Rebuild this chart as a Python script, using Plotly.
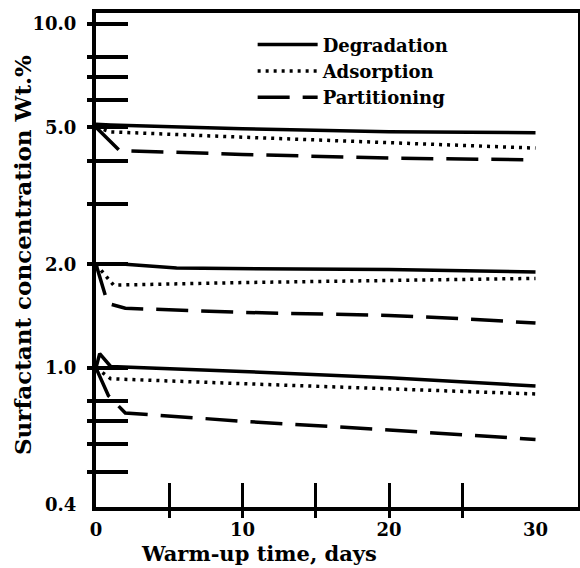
import plotly.graph_objects as go

# ---- data ----
series_names = ["Degradation", "Adsorption", "Partitioning"]

# group starting at 5.0 wt.%
deg5_days = [0, 1, 10, 20, 30]
deg5_vals = [5.1, 5.08, 4.95, 4.85, 4.82]
ads5_days = [0, 1, 10, 20, 30]
ads5_vals = [5.0, 4.85, 4.68, 4.5, 4.35]
par5_days = [0, 1.6, 10, 20, 30]
par5_vals = [5.0, 4.28, 4.17, 4.07, 4.02]

# group starting at 2.0 wt.%
deg2_days = [0, 2, 5.5, 20, 30]
deg2_vals = [2.0, 2.0, 1.95, 1.93, 1.9]
ads2_days = [0, 1.2, 10, 20, 30]
ads2_vals = [2.0, 1.74, 1.77, 1.8, 1.82]
par2_days = [0, 0.8, 2, 10, 20, 25, 30]
par2_vals = [2.0, 1.54, 1.49, 1.45, 1.42, 1.39, 1.35]

# group starting at 1.0 wt.%
deg1_days = [0, 0.25, 1, 10, 20, 30]
deg1_vals = [1.0, 1.1, 1.01, 0.977, 0.936, 0.886]
ads1_days = [0, 1, 10, 20, 30]
ads1_vals = [1.0, 0.93, 0.9, 0.87, 0.84]
par1_days = [0, 0.85, 2, 10, 20, 30]
par1_vals = [1.0, 0.83, 0.74, 0.70, 0.66, 0.62]

x_tick_vals = [0, 10, 20, 30]
x_tick_text = ["0", "10", "20", "30"]
x_mark_vals = [5, 10, 15, 20, 25]
y_tick_vals = [0.4, 1, 2, 5, 10]
y_tick_text = ["0.4", "1.0", "2.0", "5.0", "10.0"]
y_mark_vals = [10, 8, 7, 6, 5, 4, 3, 2, 1, 0.8, 0.7, 0.6, 0.5]

x_title = "Warm-up time, days"
y_title = "Surfactant concentration Wt.%"

# ---- styling ----
FONT = "DejaVu Serif"
styles = {
    "Degradation": dict(color="black", width=3.5, dash="solid"),
    "Adsorption": dict(color="black", width=3.5, dash="3px,5px"),
    "Partitioning": dict(color="black", width=3.5, dash="32px,13px"),
}

groups = [
    [(deg5_days, deg5_vals), (ads5_days, ads5_vals), (par5_days, par5_vals)],
    [(deg2_days, deg2_vals), (ads2_days, ads2_vals), (par2_days, par2_vals)],
    [(deg1_days, deg1_vals), (ads1_days, ads1_vals), (par1_days, par1_vals)],
]
# each concentration group lives on its own (identical, overlaid) axis pair,
# which lets every tick layer of the axes be drawn
axis_pairs = [("x", "y"), ("x2", "y2"), ("x3", "y3")]

fig = go.Figure()
for gi, grp in enumerate(groups):
    xa, ya = axis_pairs[gi]
    for name, (xd, yd) in zip(series_names, grp):
        fig.add_trace(go.Scatter(
            x=xd, y=yd, mode="lines", name=name,
            line=styles[name], legendgroup=name,
            showlegend=(gi == 0), xaxis=xa, yaxis=ya,
        ))

XR = [0, 32.9]
YR = [-0.404, 1.031]

common_x = dict(range=XR, showgrid=False, zeroline=False, fixedrange=True,
                automargin=False)
common_y = dict(type="log", range=YR, showgrid=False, zeroline=False,
                fixedrange=True, automargin=False)

fig.update_layout(
    width=580, height=568,
    margin=dict(l=96, r=2, t=13, b=61),
    paper_bgcolor="white", plot_bgcolor="white",
    font=dict(family=FONT, color="black", size=17, weight="bold"),
    showlegend=True,
    legend=dict(
        x=0.325, y=0.973, xanchor="left", yanchor="top",
        bgcolor="rgba(0,0,0,0)", borderwidth=0,
        font=dict(family=FONT, size=18, color="black", weight="bold"),
        itemwidth=60, tracegroupgap=0,
    ),
    xaxis=dict(
        **common_x, tickmode="array", tickvals=x_tick_vals, ticktext=x_tick_text,
        ticks="", showline=True, linewidth=4, linecolor="black", mirror=True,
        ticklabelstandoff=3,
        tickfont=dict(family=FONT, size=18, weight="bold"),
    ),
    xaxis2=dict(
        **common_x, overlaying="x", anchor="y2", side="bottom",
        tickmode="array", tickvals=x_mark_vals, ticks="inside", ticklen=24,
        tickwidth=3, tickcolor="black", showticklabels=False, showline=False,
    ),
    xaxis3=dict(
        **common_x, overlaying="x", anchor="y3", side="bottom",
        tickmode="array", tickvals=x_mark_vals, ticks="outside", ticklen=10,
        tickwidth=3, tickcolor="black", showticklabels=False, showline=False,
    ),
    yaxis=dict(
        **common_y, tickmode="array", tickvals=y_tick_vals, ticktext=y_tick_text,
        ticks="", showline=True, linewidth=4, linecolor="black",
        ticklabelstandoff=12,
        tickfont=dict(family=FONT, size=18, weight="bold"),
    ),
    yaxis2=dict(
        **common_y, overlaying="y", anchor="x2", side="left",
        tickmode="array", tickvals=y_mark_vals, ticks="inside", ticklen=32,
        tickwidth=4, tickcolor="black", showticklabels=False, showline=False,
    ),
    yaxis3=dict(
        **common_y, overlaying="y", anchor="x3", side="left",
        tickmode="array", tickvals=y_mark_vals, ticks="outside", ticklen=7,
        tickwidth=4, tickcolor="black", showticklabels=False,
        showline=True, linewidth=1.5, linecolor="black", mirror=True,
    ),
    annotations=[
        dict(text=x_title, xref="paper", yref="paper", x=0.338, y=-0.095,
             xanchor="center", yanchor="middle", showarrow=False,
             font=dict(family=FONT, size=21, color="black", weight="bold")),
        dict(text=y_title, xref="paper", yref="paper", x=-0.1535, y=0.51,
             xanchor="center", yanchor="middle", showarrow=False, textangle=-90,
             font=dict(family=FONT, size=23, color="black", weight="bold")),
    ],
)

fig.write_html("out.html", config={"displayModeBar": False},
               post_script="document.body.style.margin='0px';")
